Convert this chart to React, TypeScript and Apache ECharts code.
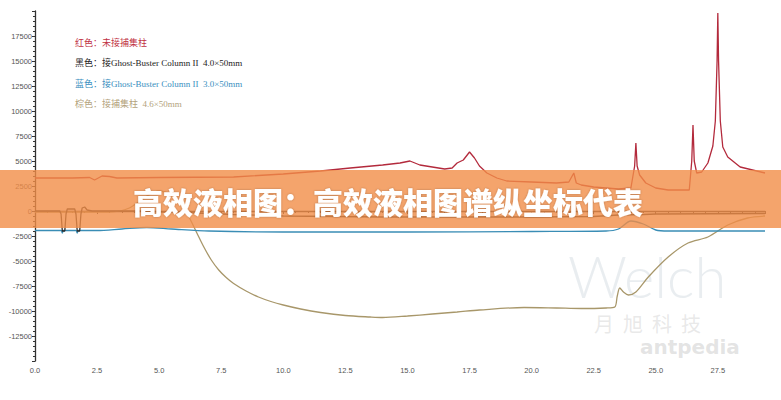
import React, { useEffect, useRef } from "react";
import * as echarts from "echarts";

// x-axis tick labels
const xTickLabels = ["0.0", "2.5", "5.0", "7.5", "10.0", "12.5", "15.0", "17.5", "20.0", "22.5", "25.0", "27.5"];
const yTickLabels = ["-12500", "-10000", "-7500", "-5000", "-2500", "0", "2500", "5000", "7500", "10000", "12500", "15000", "17500"];

const legendTexts = [
  "红色：未接捕集柱",
  "黑色：接Ghost-Buster Column II  4.0×50mm",
  "蓝色：接Ghost-Buster Column II  3.0×50mm",
  "棕色：接捕集柱  4.6×50mm",
];
const bannerText = "高效液相图：高效液相图谱纵坐标代表";

// Red: 未接捕集柱
const redT = [0, 1.5, 2.2, 2.4, 2.7, 3.0, 3.3, 5, 8, 10, 11.5, 12.7, 14, 14.7, 15.1, 15.5, 16.0, 16.5, 16.8, 17.0, 17.25, 17.5, 17.7, 17.9, 18.2, 18.6, 19.0, 20.0, 21.0, 21.5, 21.7, 21.8, 22.0, 22.5, 23.5, 24.0, 24.15, 24.2, 24.25, 24.35, 24.6, 25.0, 25.5, 26.35, 26.45, 26.5, 26.55, 26.65, 26.85, 27.1, 27.3, 27.4, 27.47, 27.5, 27.53, 27.6, 27.7, 27.9, 28.4, 29.4];
const redV = [3300, 3300, 3350, 3100, 3500, 3450, 3300, 3350, 3400, 3700, 4000, 4300, 4600, 4800, 5000, 4600, 4400, 4200, 4300, 4800, 5100, 5900, 5300, 4500, 3800, 3300, 3000, 2900, 2800, 2900, 3800, 2800, 2600, 2400, 2200, 2300, 4500, 6800, 4500, 3600, 2800, 2300, 2100, 2100, 5000, 8600, 5000, 3800, 3900, 4800, 6500, 9000, 15000, 19800, 15000, 9000, 6400, 5400, 4400, 3800];

// Black: Ghost-Buster 4.0×50mm
const blackT = [0, 1.0, 1.05, 1.1, 1.2, 1.25, 1.3, 1.6, 1.65, 1.7, 1.8, 1.85, 1.9, 2.0, 2.1, 2.3, 4, 6, 8, 10, 14, 20, 22.5, 23.5, 24.5, 25, 29.4];
const blackV = [0, 0, -300, -2000, -2000, -300, 200, 200, -300, -2000, -2000, -300, 300, 400, 100, 0, 0, -150, -350, -500, -600, -600, -550, -400, -350, -300, -250];

// Blue: Ghost-Buster 3.0×50mm
const blueT = [0, 1.05, 1.1, 1.15, 1.65, 1.7, 1.75, 2.5, 3.5, 4.5, 5.5, 7, 10, 15, 20, 23, 23.5, 24.0, 24.5, 25.0, 25.5, 29.4];
const blueV = [-1950, -1950, -2200, -1950, -1950, -2200, -1950, -1950, -1800, -1650, -1800, -2000, -2100, -2100, -2050, -2000, -1800, -1000, -1300, -1900, -2000, -2000];

// Brown: 接捕集柱 4.6×50mm
const brownT = [0, 3.0, 3.8, 4.5, 5.0, 5.5, 5.85, 6.2, 6.5, 6.8, 7.1, 7.4, 7.7, 8.0, 8.5, 9.0, 9.5, 10.0, 10.7, 11.5, 12.5, 13.5, 14.0, 15.0, 16.0, 17.0, 17.9, 19.7, 21.0, 22.0, 23.0, 23.35, 23.45, 23.55, 23.7, 23.9, 24.2, 24.7, 25.5, 26.3, 27.1, 27.9, 28.7, 29.4];
const brownV = [-100, -100, 300, 1500, 2000, 1600, 800, -600, -2100, -3600, -4900, -5900, -6650, -7250, -8000, -8600, -9050, -9400, -9800, -10150, -10450, -10600, -10650, -10500, -10300, -10100, -9900, -9650, -9700, -9750, -9700, -9600, -8500, -7700, -8100, -8400, -8100, -6600, -4600, -3200, -2600, -1400, -700, -500];

const pair = (t: number[], v: number[]) => t.map((x, i) => [x, v[i]]);

export default function App() {
  const ref = useRef<HTMLDivElement>(null);
  useEffect(() => {
    if (!ref.current) return;
    const chart = echarts.init(ref.current, undefined, { renderer: "svg" });
    const legendColors = ["#c0303f", "#222222", "#3a8fc0", "#b3a27c"];
    const axisFont = "Liberation Sans, DejaVu Sans, sans-serif";
    const lineSeries = (name: string, data: number[][], color: string, smooth: number | boolean) => ({
      name,
      type: "line",
      data,
      showSymbol: false,
      smooth,
      lineStyle: { color, width: 1.3 },
      z: 3,
    });
    chart.setOption({
      animation: false,
      backgroundColor: "#ffffff",
      grid: { left: 35, right: 16, top: 11, bottom: 39 },
      xAxis: {
        type: "value",
        min: 0,
        max: 29.4,
        interval: 2.5,
        axisLine: { lineStyle: { color: "#333", width: 1.3 } },
        axisTick: { length: 3, lineStyle: { color: "#333" } },
        minorTick: { show: true, splitNumber: 5, length: 2, lineStyle: { color: "#333" } },
        splitLine: { show: false },
        axisLabel: {
          fontSize: 7.5,
          color: "#555",
          fontFamily: axisFont,
          margin: 5,
          formatter: (v: number) => {
            const k = Math.round(v / 2.5);
            return Math.abs(v - k * 2.5) < 1e-6 && k < xTickLabels.length ? xTickLabels[k] : "";
          },
        },
      },
      yAxis: {
        type: "value",
        min: -15000,
        max: 20000,
        interval: 2500,
        axisLine: { show: true, lineStyle: { color: "#333", width: 1.3 } },
        axisTick: { show: true, length: 3, lineStyle: { color: "#333" } },
        minorTick: { show: true, splitNumber: 5, length: 2, lineStyle: { color: "#333" } },
        splitLine: { show: false },
        axisLabel: {
          fontSize: 7.5,
          color: "#555",
          fontFamily: axisFont,
          margin: 3,
          showMinLabel: false,
          showMaxLabel: false,
          formatter: (v: number) => {
            const k = Math.round(v / 2500) + 5;
            return k >= 0 && k < yTickLabels.length ? yTickLabels[k] : "";
          },
        },
      },
      series: [
        lineSeries("棕色", pair(brownT, brownV), "#a8976a", 0.3),
        lineSeries("蓝色", pair(blueT, blueV), "#3a8db5", 0.3),
        lineSeries("黑色", pair(blackT, blackV), "#2a2a2a", false),
        lineSeries("红色", pair(redT, redV), "#b32a3c", false),
      ],
      graphic: [
        // watermarks
        {
          type: "text",
          x: 568,
          y: 246,
          z: 1,
          silent: true,
          style: { text: "Welch", fill: "rgba(200,210,218,0.4)", font: "300 58px Lato, sans-serif" },
        },
        {
          type: "text",
          x: 594,
          y: 313,
          z: 1,
          silent: true,
          style: { text: "月  旭  科  技", fill: "rgba(205,205,205,0.45)", font: "20px 'Noto Sans CJK SC'" },
        },
        {
          type: "text",
          x: 640,
          y: 337,
          z: 1,
          silent: true,
          style: { text: "antpedia", fill: "rgba(185,185,185,0.4)", font: "bold 20px 'DejaVu Sans', sans-serif" },
        },
        // legend texts
        ...legendTexts.map((t, i) => ({
          type: "text",
          x: 75,
          y: 38 + i * 20.5,
          z: 10,
          style: {
            text: t,
            fill: legendColors[i],
            font: "9px 'Liberation Serif', 'Noto Sans CJK SC', serif",
          },
        })),
        // banner
        {
          type: "rect",
          z: 100,
          shape: { x: 0, y: 170, width: 781, height: 58 },
          style: { fill: "rgba(241,141,71,0.8)" },
        },
        {
          type: "text",
          z: 101,
          x: 388,
          y: 201,
          style: {
            text: bannerText,
            fill: "#ffffff",
            font: "900 30px 'Noto Sans CJK SC', sans-serif",
            align: "center",
            verticalAlign: "middle",
            textAlign: "center",
            textVerticalAlign: "middle",
            textShadowColor: "rgba(0,0,0,0.25)",
            textShadowBlur: 2,
          },
        },
      ],
    });
    return () => chart.dispose();
  }, []);
  return (
    <div
      ref={ref}
      style={{ position: "fixed", left: 0, top: 0, width: 781, height: 400 }}
    />
  );
}
